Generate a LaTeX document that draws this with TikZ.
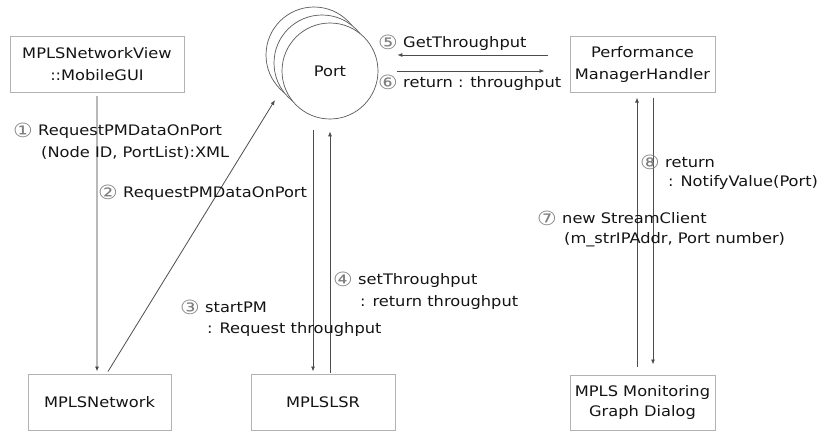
\documentclass[tikz,border=0pt]{standalone}
\usepackage{fontspec}
\setmainfont{DejaVu Sans}[FakeStretch=1.12]
\usetikzlibrary{calc,arrows.meta}
\newcommand{\cnum}[1]{{\color{gray}\makebox[25pt][l]{\raisebox{-1.5pt}{\scalebox{1.35}{#1}}}}}
\begin{document}
\begin{tikzpicture}[x=1pt,y=-1pt,
  every node/.style={font=\fontsize{14.5}{22}\selectfont, text=black!92},
  box/.style={draw=gray!60, line width=1pt, minimum width=#1, minimum height=56pt, inner sep=0pt, align=center},
  portc/.style={draw=black!65, line width=0.7pt, circle, minimum size=96pt, inner sep=0pt, fill=white},
  arr/.style={draw=black!70, line width=0.8pt, -{Latex[length=5pt,width=4pt]}},
  arrg/.style={draw=gray!55, line width=1.3pt, -{Latex[length=5pt,width=4pt,color=black!75]}},
  lbl/.style={anchor=west, inner sep=0pt}
]
\useasboundingbox (0,0) rectangle (830,432);

% boxes
\node[box=174pt] (view) at (97,64) {MPLSNetworkView\\::MobileGUI};
\node[box=143pt] (net) at (99.5,402) {MPLSNetwork};
\node[box=144pt] (lsr) at (323,402) {MPLSLSR};
\node[box=145pt] (pmh) at (642.5,64) {Performance\\ManagerHandler};
\node[box=145pt, minimum height=55pt, font=\fontsize{14.5}{20}\selectfont] (mgd) at (642.5,402.5) {MPLS Monitoring\\Graph Dialog};

% port circles
\node[portc] (back) at (314,55) {};
\node[portc] (mid) at (322,63) {};
\node[portc] (front) at (330,71) {Port};

% connectors
\draw[arrg] ($(view.south)+(0,3)$) -- ($(net.north)+(-2.5,-2)$);
\draw[arr] ($(net.north)+(8.5,-2)$) -- ($(mid.center)+(-47,37)$);
\draw[arr] ($(front.south)+(-17,11)$) -- ($(lsr.north)+(-10,-2)$);
\draw[arr] ($(lsr.north)+(7,-1)$) -- ($(front.south)+(0,12)$);
\draw[arr] ($(pmh.west)+(-22,-9)$) -- ($(front.east)+(19,-16)$);
\draw[arr] ($(front.east)+(19,0)$) -- ($(pmh.west)+(-25,7)$);
\draw[arr] ($(mgd.north)+(-5.5,-8)$) -- ($(pmh.south)+(-5.5,5)$);
\draw[arr] ($(pmh.south)+(10.5,5)$) -- ($(mgd.north)+(10.5,-10)$);

% labels
\node[lbl] (l1a) at (13,131) {\cnum{①}RequestPMDataOnPort};
\node[lbl] (l1b) at (41,153) {(Node ID, PortList):XML};
\node[lbl] (l2) at (98,193) {\cnum{②}RequestPMDataOnPort};
\node[lbl] (l3a) at (180,307) {\cnum{③}startPM};
\node[lbl] (l3b) at (207,329) {: Request throughput};
\node[lbl] (l4a) at (333,280) {\cnum{④}setThroughput};
\node[lbl] (l4b) at (360,302) {: return throughput};
\node[lbl] (l5) at (378,43) {\cnum{⑤}GetThroughput};
\node[lbl] (l6) at (378,83) {\cnum{⑥}return : throughput};
\node[lbl] (l7a) at (537,218) {\cnum{⑦}new StreamClient};
\node[lbl] (l7b) at (564,240) {(m\_strIPAddr, Port number)};
\node[lbl] (l8a) at (640,162) {\cnum{⑧}return};
\node[lbl] (l8b) at (668,182) {: NotifyValue(Port)};
\end{tikzpicture}
\end{document}
